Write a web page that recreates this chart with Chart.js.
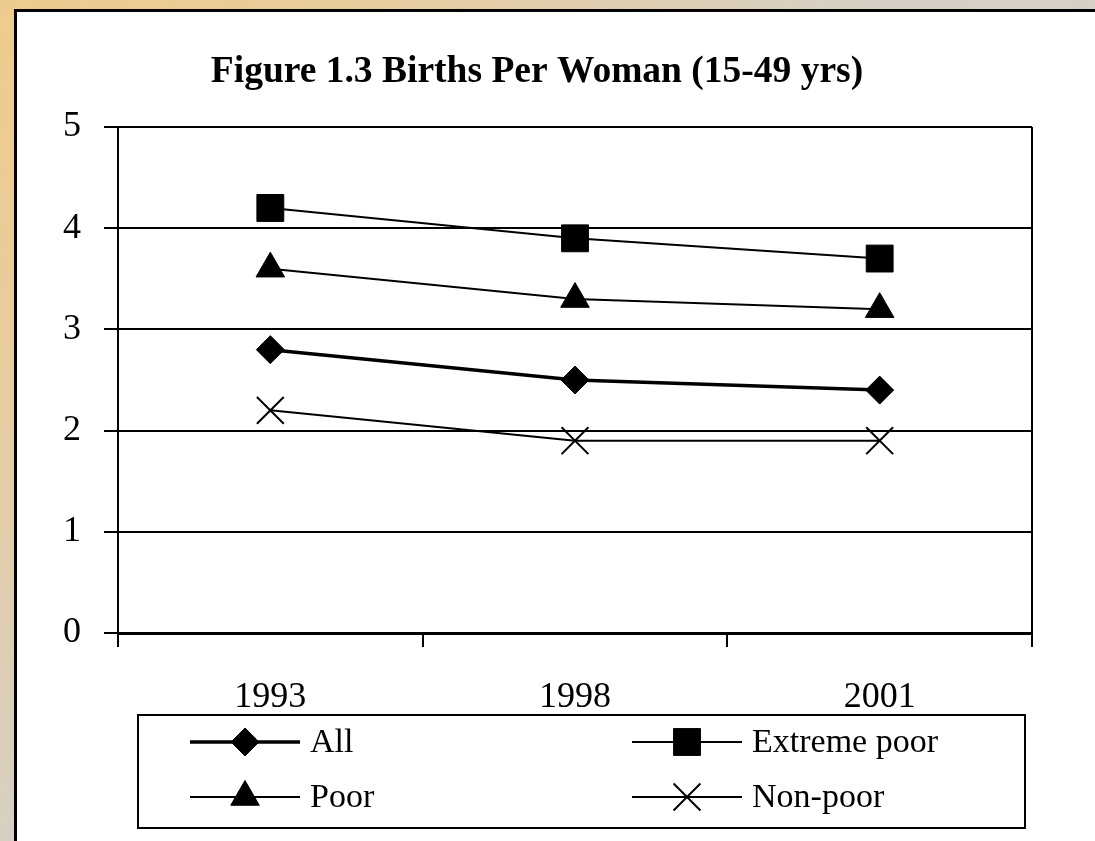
<!DOCTYPE html>
<html>
<head>
<meta charset="utf-8">
<script src="https://cdn.jsdelivr.net/npm/chart.js@4/dist/chart.umd.min.js"></script>
<style>
 html, body { margin: 0; padding: 0; width: 1095px; height: 841px; overflow: hidden; }
 body { background: linear-gradient(135deg, #eecb8d 0%, #e8cc9c 18%, #d6d0c4 45%, #d4d0c8 100%); position: relative; }
 #panel { position: absolute; left: 14px; top: 9px; width: 1200px; height: 900px; background: #fff; border: 3px solid #000; box-sizing: border-box; }
 #chart { position: absolute; left: 0; top: 0; }
</style>
</head>
<body>
<div id="panel"></div>
<canvas id="chart" width="1095" height="841"></canvas>
<script>
const years = ['1993', '1998', '2001'];
const allWomen = [2.8, 2.5, 2.4];
const extremePoor = [4.2, 3.9, 3.7];
const poor = [3.6, 3.3, 3.2];
const nonPoor = [2.2, 1.9, 1.9];
const yTicks = [0, 1, 2, 3, 4, 5];

const serif = '"Liberation Serif", "Times New Roman", serif';

// frame, title and boxed legend drawn by hand
const decor = {
 id: 'decor',
 afterDraw(chart) {
  const ctx = chart.ctx;
  const a = chart.chartArea;
  ctx.save();
  ctx.strokeStyle = '#000';
  ctx.lineWidth = 2;
  ctx.beginPath();
  ctx.moveTo(a.right, a.top);
  ctx.lineTo(a.right, a.bottom);
  ctx.stroke();

  ctx.fillStyle = '#000';
  ctx.font = 'bold 37.5px ' + serif;
  ctx.textAlign = 'center';
  ctx.textBaseline = 'alphabetic';
  ctx.fillText('Figure 1.3 Births Per Woman (15-49 yrs)', 537, 82);

  ctx.lineWidth = 2;
  ctx.strokeRect(138, 715, 887, 113);
  const colX = [190, 632];
  const rowY = [742, 797];
  ctx.font = '34px ' + serif;
  ctx.textAlign = 'left';
  ctx.textBaseline = 'middle';
  chart.data.datasets.forEach((ds, i) => {
   const x = colX[i % 2], y = rowY[Math.floor(i / 2)];
   ctx.strokeStyle = '#000';
   ctx.lineWidth = ds.borderWidth;
   ctx.beginPath();
   ctx.moveTo(x, y);
   ctx.lineTo(x + 110, y);
   ctx.stroke();
   ctx.fillStyle = '#000';
   ctx.lineWidth = ds.pointBorderWidth;
   Chart.helpers.drawPoint(ctx, { pointStyle: ds.pointStyle, radius: ds.pointRadius, rotation: 0, borderWidth: ds.pointBorderWidth }, x + 55, y);
   ctx.fillText(ds.label, x + 120, y + 1);
  });
  ctx.restore();
 }
};

function series(label, data, style, radius, width, pbw) {
 return {
  label: label,
  data: data,
  borderColor: '#000',
  backgroundColor: '#000',
  borderWidth: width,
  pointStyle: style,
  pointRadius: radius,
  pointHoverRadius: radius,
  pointBackgroundColor: '#000',
  pointBorderColor: '#000',
  pointBorderWidth: pbw,
  tension: 0
 };
}

new Chart(document.getElementById('chart'), {
 type: 'line',
 data: {
  labels: years,
  datasets: [
   series('All', allWomen, 'rectRot', 14, 3.5, 1),
   series('Extreme poor', extremePoor, 'rect', 19, 2, 1),
   series('Poor', poor, 'triangle', 16.5, 2, 1),
   series('Non-poor', nonPoor, 'crossRot', 19, 2, 2)
  ]
 },
 options: {
  responsive: false,
  animation: false,
  layout: { padding: { top: 127, left: 0, right: 63, bottom: 0 } },
  plugins: {
   legend: { display: false },
   title: { display: false },
   tooltip: { enabled: false }
  },
  scales: {
   x: {
    offset: true,
    afterFit(scale) { scale.height = 208; },
    grid: { offset: true, drawOnChartArea: false, drawTicks: true, tickLength: 14, color: '#000', lineWidth: 2 },
    border: { display: true, color: '#000', width: 3 },
    ticks: { color: '#000', font: { family: serif, size: 36 }, padding: 29, maxRotation: 0 }
   },
   y: {
    min: 0,
    max: 5,
    afterFit(scale) { scale.width = 118; },
    afterBuildTicks(scale) { scale.ticks = yTicks.map(v => ({ value: v })); },
    grid: { color: '#000', lineWidth: 2, drawTicks: true, tickLength: 14 },
    border: { display: true, color: '#000', width: 2 },
    ticks: { color: '#000', font: { family: serif, size: 36 }, padding: 23 }
   }
  }
 },
 plugins: [decor]
});
</script>
</body>
</html>
